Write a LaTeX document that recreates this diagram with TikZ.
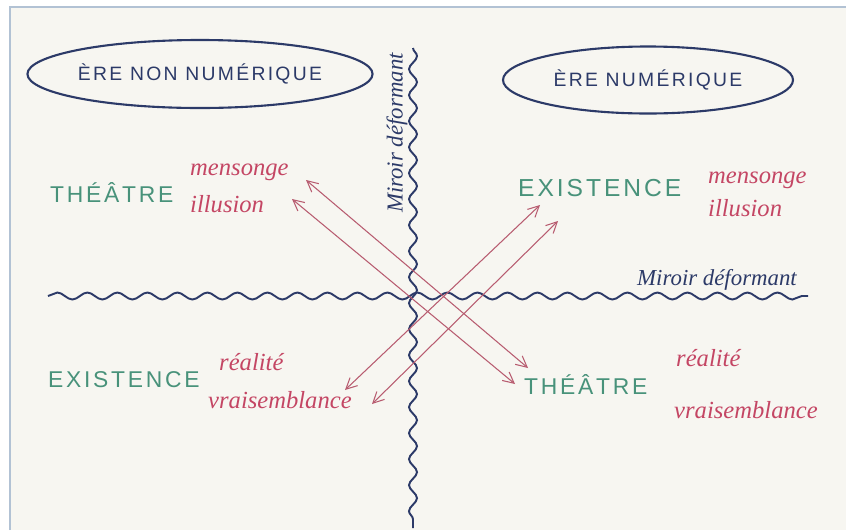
\documentclass[tikz,border=0pt]{standalone}
\usepackage{fontspec}
\usetikzlibrary{shapes.geometric,decorations.pathmorphing,arrows.meta}
\newfontfamily\capsfont[LetterSpace=12]{Liberation Sans}
\newfontfamily\handfont{Liberation Serif}
\definecolor{paper}{RGB}{247,246,241}
\definecolor{edge}{RGB}{178,194,212}
\definecolor{ink}{RGB}{44,58,104}
\definecolor{greenink}{RGB}{72,146,122}
\definecolor{redink}{RGB}{196,70,100}
\definecolor{arrowink}{RGB}{184,92,112}

\tikzset{
  era/.style={draw=ink, line width=1.2pt, ellipse, inner sep=0pt,
    font=\capsfont\fontsize{11}{11}\selectfont, text=ink},
  mirror/.style={draw=ink, line width=1.1pt, decorate},
  pole/.style={font=\capsfont\fontsize{13}{13}\selectfont, text=greenink, anchor=west},
  word/.style={font=\handfont\itshape\fontsize{14}{14}\selectfont, text=redink, anchor=west},
  glance/.style={draw=arrowink, line width=0.6pt,
    {Straight Barb[length=2.2mm,width=2.2mm]}-{Straight Barb[length=2.2mm,width=2.2mm]}}
}

\begin{document}
\begin{tikzpicture}[x=0.2mm, y=-0.2mm]
  \useasboundingbox (0,0) rectangle (846,530);
  \fill[white] (0,0) rectangle (846,530);
  \fill[paper] (10,7) rectangle (846,530);
  \draw[edge, line width=1.5pt] (10,530) -- (10,7) -- (846,7);

  \node[era, minimum width=56mm, minimum height=13.6mm] (nonnum) at (200,74)
    {ÈRE NON NUMÉRIQUE};
  \node[era, minimum width=58mm, minimum height=13.4mm] (num) at (648,80)
    {ÈRE NUMÉRIQUE};

  \coordinate (htop) at (48,296);
  \coordinate (hend) at (808,296);
  \coordinate (vtop) at (413,48);
  \coordinate (vend) at (413,528);
  \draw[mirror, decoration={snake, segment length=6mm, amplitude=0.7mm}]
    (htop) -- (hend);
  \draw[mirror, decoration={snake, segment length=5.2mm, amplitude=0.8mm}]
    (vtop) -- (vend);
  \node[rotate=90, font=\handfont\itshape\fontsize{13}{13}\selectfont, text=ink]
    (vlabel) at (397,133) {Miroir déformant};
  \node[font=\handfont\itshape\fontsize{13}{13}\selectfont, text=ink]
    (hlabel) at (717,280) {Miroir déformant};

  \node[pole] (theatreA) at (44,193) {THÉÂTRE};
  \node[word] (mensA) at (184,172) {mensonge};
  \node[word] (illA) at (184,204) {illusion};
  \node[pole, font=\capsfont\fontsize{14}{14}\selectfont] (existA) at (512,188) {EXISTENCE};
  \node[word] (mensB) at (702,180) {mensonge};
  \node[word] (illB) at (702,208) {illusion};
  \node[pole] (existB) at (42,380) {EXISTENCE};
  \node[word] (realA) at (213,362) {réalité};
  \node[word] (vraiA) at (202,400) {vraisemblance};
  \node[pole] (theatreB) at (518,385) {THÉÂTRE};
  \node[word] (realB) at (670,358) {réalité};
  \node[word] (vraiB) at (668,410) {vraisemblance};

  \coordinate (a1) at (306,180);
  \coordinate (a2) at (528,368);
  \coordinate (b1) at (292,199);
  \coordinate (b2) at (515,384);
  \coordinate (c1) at (345,390);
  \coordinate (c2) at (540,205);
  \coordinate (d1) at (372,404);
  \coordinate (d2) at (558,221);
  \draw[glance] (a1) -- (a2);
  \draw[glance] (b1) -- (b2);
  \draw[glance] (c1) -- (c2);
  \draw[glance] (d1) -- (d2);
\end{tikzpicture}
\end{document}
